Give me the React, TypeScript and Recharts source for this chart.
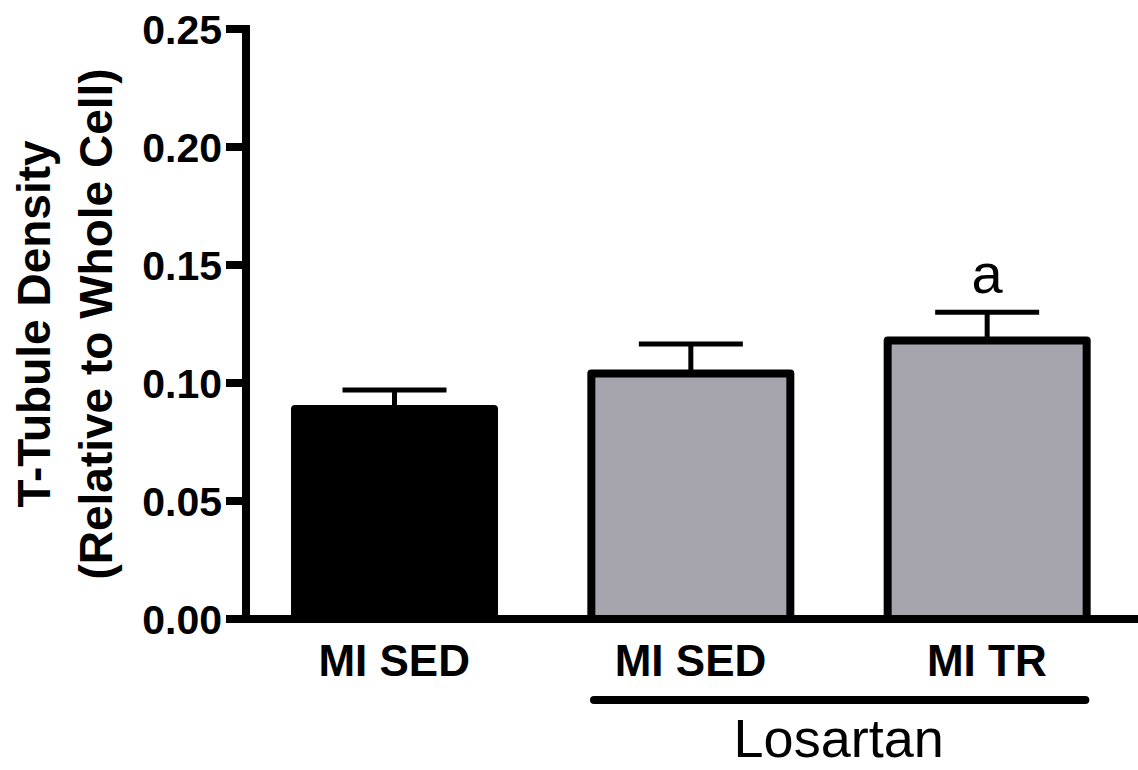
import { BarChart, Bar, XAxis, YAxis, Cell, ErrorBar, LabelList, Label } from "recharts";

// data
const groups = ["MI SED", "MI SED", "MI TR"];
const means = [0.089, 0.104, 0.118];
const sem = [0.008, 0.0125, 0.012];
const marks = ["", "", "a"];
const losartan = [false, true, true];
const yTicks = [0, 0.05, 0.1, 0.15, 0.2, 0.25];

const W = 1138;
const H = 770;
const MARGIN = { top: 29, right: 3, bottom: 91, left: 0 };
const Y_W = 246;
const X_H = 60;
const BAR = 199;
const BAND = (W - Y_W - MARGIN.left - MARGIN.right) / groups.length;
const FONT = "'Liberation Sans', Arial, Helvetica, sans-serif";

const data = groups.map((g, i) => ({
  id: i,
  name: g,
  value: means[i],
  err: [0, sem[i]],
  mark: marks[i],
}));

function GroupTick(props: any) {
  const { x, y, payload } = props;
  const i = payload.index;
  const first = i === losartan.indexOf(true);
  const count = losartan.filter(Boolean).length;
  return (
    <g>
      <text
        x={x}
        y={y}
        dy="0.71em"
        textAnchor="middle"
        fontFamily={FONT}
        fontWeight="bold"
        fontSize={44}
        fill="#000"
      >
        {groups[i]}
      </text>
      {first && (
        <g>
          <line
            x1={x - BAR / 2 + 3}
            x2={x + BAND * (count - 1) + BAR / 2 - 1}
            y1={y + 55}
            y2={y + 55}
            stroke="#000"
            strokeWidth={8}
            strokeLinecap="round"
          />
          <text
            x={x + (BAND * (count - 1)) / 2}
            y={y + 112}
            textAnchor="middle"
            fontFamily={FONT}
            fontSize={54}
            fill="#000"
          >
            Losartan
          </text>
        </g>
      )}
    </g>
  );
}

function YTitle(props: any) {
  const vb = props.viewBox || { x: 0, y: 0, height: 0 };
  const cy = vb.y + vb.height / 2;
  const lines = ["T-Tubule Density", "(Relative to Whole Cell)"];
  const xs = [50, 112];
  return (
    <g>
      {lines.map((t, k) => (
        <text
          key={k}
          x={vb.x + xs[k]}
          y={cy}
          transform={`rotate(-90, ${vb.x + xs[k]}, ${cy})`}
          textAnchor="middle"
          fontFamily={FONT}
          fontWeight="bold"
          fontSize={46}
          fill="#000"
        >
          {t}
        </text>
      ))}
    </g>
  );
}

export default function App() {
  return (
    <div style={{ position: "absolute", left: 0, top: 0, background: "#fff" }}>
      <BarChart width={W} height={H} data={data} margin={MARGIN}>
        <XAxis
          dataKey="id"
          type="category"
          height={X_H}
          tickLine={false}
          tickSize={0}
          tickMargin={26}
          tick={<GroupTick />}
          axisLine={{ stroke: "#000", strokeWidth: 8, strokeLinecap: "square" }}
          interval={0}
        />
        <YAxis
          width={Y_W}
          domain={[0, 0.25]}
          ticks={yTicks}
          tickFormatter={(v: number) => v.toFixed(2)}
          tickSize={20}
          tickMargin={4}
          tickLine={{ stroke: "#000", strokeWidth: 8 }}
          axisLine={{ stroke: "#000", strokeWidth: 8, strokeLinecap: "square" }}
          tick={{ fill: "#000", fontFamily: FONT, fontWeight: "bold", fontSize: 41 }}
          allowDataOverflow
        >
          <Label content={<YTitle />} position="insideLeft" />
        </YAxis>
        <Bar
          dataKey="value"
          barSize={BAR}
          stroke="#000"
          strokeWidth={8}
          strokeLinejoin="round"
          isAnimationActive={false}
        >
          {data.map((d, i) => (
            <Cell key={i} fill={losartan[i] ? "#a6a4ac" : "#000"} />
          ))}
          <ErrorBar
            dataKey="err"
            direction="y"
            width={52}
            stroke="#000"
            strokeWidth={5}
            isAnimationActive={false}
          />
          <LabelList
            dataKey="mark"
            position="top"
            offset={48}
            fill="#000"
            fontFamily={FONT}
            fontSize={56}
          />
        </Bar>
      </BarChart>
    </div>
  );
}
